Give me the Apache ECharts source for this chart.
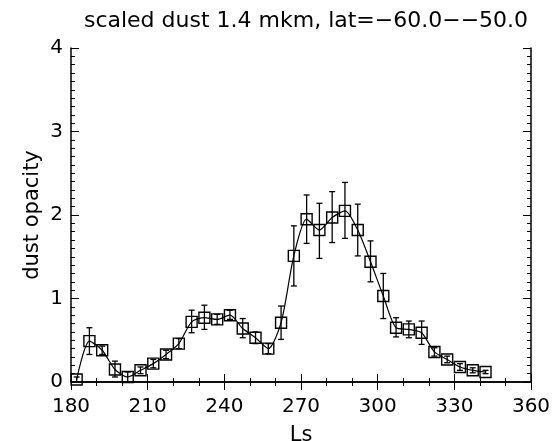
<!DOCTYPE html>
<html>
<head>
<meta charset="utf-8">
<script src="https://cdn.jsdelivr.net/npm/echarts@6/dist/echarts.min.js"></script>
<style>html,body{margin:0;padding:0;background:#fff;}#c{width:557px;height:441px;}</style>
</head>
<body>
<div id="c"></div>
<script>
var titleText = 'scaled dust 1.4 mkm, lat=\u221260.0\u2212\u221250.0';
var xName = 'Ls';
var yName = 'dust opacity';
var ls = [182.2, 187.2, 192.2, 197.2, 202.2, 207.2, 212.2, 217.2, 222.2, 227.2, 232.2, 237.2, 242.2, 247.2, 252.2, 257.2, 262.2, 267.2, 272.2, 277.2, 282.2, 287.2, 292.2, 297.2, 302.2, 307.2, 312.2, 317.2, 322.2, 327.2, 332.2, 337.2, 342.2];
var opacity = [0.03, 0.49, 0.38, 0.15, 0.06, 0.14, 0.22, 0.33, 0.46, 0.72, 0.77, 0.75, 0.80, 0.64, 0.53, 0.40, 0.71, 1.51, 1.95, 1.82, 1.97, 2.05, 1.82, 1.44, 1.03, 0.65, 0.63, 0.59, 0.36, 0.27, 0.18, 0.14, 0.12];
var errLow = [0.00, 0.33, 0.33, 0.06, 0.00, 0.10, 0.17, 0.28, 0.40, 0.59, 0.63, 0.69, 0.75, 0.53, 0.46, 0.34, 0.51, 1.15, 1.66, 1.48, 1.67, 1.72, 1.51, 1.20, 0.76, 0.54, 0.53, 0.45, 0.31, 0.23, 0.14, 0.11, 0.10];
var errHigh = [0.06, 0.65, 0.43, 0.25, 0.12, 0.18, 0.27, 0.38, 0.52, 0.86, 0.92, 0.81, 0.86, 0.76, 0.60, 0.46, 0.91, 1.87, 2.24, 2.14, 2.28, 2.39, 2.13, 1.69, 1.30, 0.77, 0.73, 0.73, 0.41, 0.31, 0.22, 0.17, 0.14];

var lineData = ls.map(function (x, i) { return [x, opacity[i]]; });
var errData = ls.map(function (x, i) { return [x, errLow[i], errHigh[i]]; });

var FONT = 'DejaVu Sans';
var chart = echarts.init(document.getElementById('c'), null, {renderer: 'canvas'});

function axisCommon() {
  return {
    axisLine: {show: true, lineStyle: {color: '#000', width: 1.5}},
    axisTick: {show: true, inside: true, length: 8, lineStyle: {color: '#000', width: 1}},
    minorTick: {show: true, length: 4, lineStyle: {color: '#000', width: 1}},
    splitLine: {show: false}
  };
}

var xBottom = Object.assign(axisCommon(), {
  type: 'value', min: 180, max: 360, interval: 30, position: 'bottom',
  minorTick: {show: true, splitNumber: 3, length: 4, lineStyle: {color: '#000', width: 1}},
  name: xName, nameLocation: 'middle', nameGap: 43, nameMoveOverlap: false,
  nameTextStyle: {fontFamily: FONT, fontSize: 21, color: '#000'},
  axisLabel: {show: true, margin: 15, fontFamily: FONT, fontSize: 20, color: '#000'}
});
var xTop = Object.assign(axisCommon(), {
  type: 'value', min: 180, max: 360, interval: 30, position: 'top',
  minorTick: {show: true, splitNumber: 3, length: 4, lineStyle: {color: '#000', width: 1}},
  axisLabel: {show: false}
});
var yLeft = Object.assign(axisCommon(), {
  type: 'value', min: 0, max: 4, interval: 1, position: 'left',
  minorTick: {show: true, splitNumber: 10, length: 4, lineStyle: {color: '#000', width: 1}},
  name: yName, nameLocation: 'middle', nameGap: 28, nameRotate: 90, nameMoveOverlap: false,
  nameTextStyle: {fontFamily: FONT, fontSize: 21, color: '#000'},
  axisLabel: {show: true, margin: 8, fontFamily: FONT, fontSize: 20, color: '#000'}
});
var yRight = Object.assign(axisCommon(), {
  type: 'value', min: 0, max: 4, interval: 1, position: 'right',
  minorTick: {show: true, splitNumber: 10, length: 4, lineStyle: {color: '#000', width: 1}},
  axisLabel: {show: false}
});

chart.setOption({
  animation: false,
  backgroundColor: '#fff',
  title: {
    text: titleText, left: 301, top: 5, textAlign: 'center',
    textStyle: {fontFamily: FONT, fontSize: 22, fontWeight: 'normal', color: '#000'}
  },
  grid: {left: 71, right: 26, top: 48, bottom: 59, containLabel: false, outerBoundsMode: 'none'},
  xAxis: [xBottom, xTop],
  yAxis: [yLeft, yRight],
  series: [
    {
      type: 'custom',
      xAxisIndex: 0, yAxisIndex: 0,
      data: errData,
      z: 2,
      renderItem: function (params, api) {
        var x = api.value(0);
        var lo = api.coord([x, api.value(1)]);
        var hi = api.coord([x, api.value(2)]);
        var cw = 3;
        var st = {stroke: '#000', lineWidth: 1.3};
        return {
          type: 'group',
          children: [
            {type: 'line', shape: {x1: lo[0], y1: lo[1], x2: hi[0], y2: hi[1]}, style: st},
            {type: 'line', shape: {x1: lo[0] - cw, y1: lo[1], x2: lo[0] + cw, y2: lo[1]}, style: st},
            {type: 'line', shape: {x1: hi[0] - cw, y1: hi[1], x2: hi[0] + cw, y2: hi[1]}, style: st}
          ]
        };
      }
    },
    {
      type: 'line',
      xAxisIndex: 0, yAxisIndex: 0,
      data: lineData,
      z: 3,
      smooth: 0.25,
      symbol: 'rect',
      symbolSize: 11,
      showAllSymbol: true,
      clip: false,
      lineStyle: {color: '#000', width: 1.2},
      itemStyle: {color: 'rgba(255,255,255,0)', borderColor: '#000', borderWidth: 1.4},
      emphasis: {disabled: true}
    }
  ]
});
</script>
</body>
</html>
